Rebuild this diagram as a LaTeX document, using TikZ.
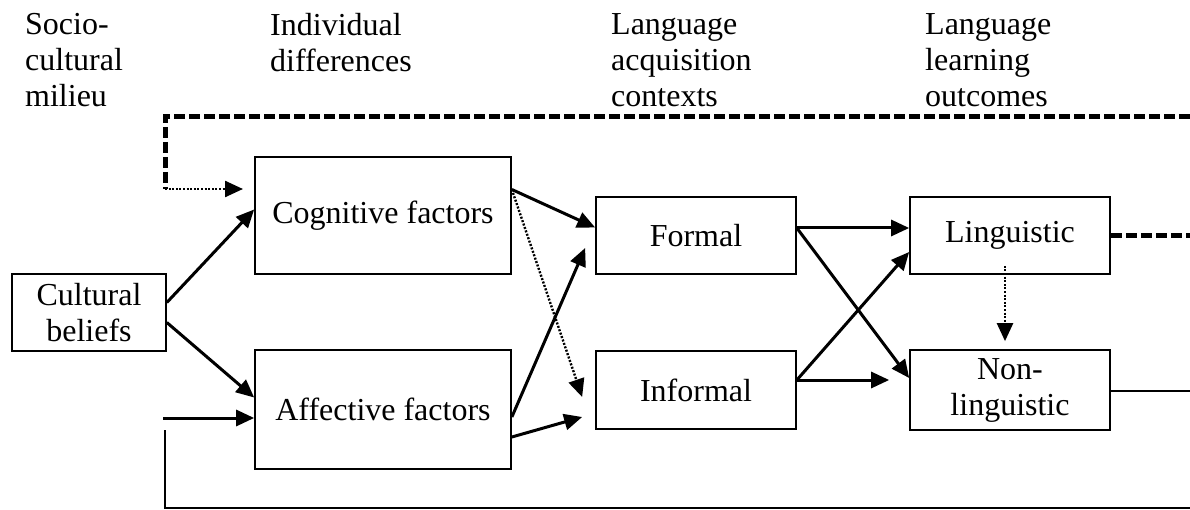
\documentclass[tikz,border=0pt]{standalone}
\usepackage{fontspec}
\setmainfont{Liberation Serif}
\usetikzlibrary{arrows.meta}

\tikzset{
  box/.style={draw, line width=1.7pt, inner sep=0pt, align=center},
  head/.style={anchor=north west, inner sep=0pt, align=left},
  arr/.style={line width=3pt, -{Triangle[length=18pt,width=16pt]}},
  dotarr/.style={line width=2.4pt, dash pattern=on 2pt off 1.6pt, -{Triangle[length=18pt,width=16pt]}},
  fbdash/.style={line width=5pt, dash pattern=on 11pt off 4pt},
  fbline/.style={line width=1.7pt}
}

\begin{document}
\begin{tikzpicture}[x=1pt, y=-1pt, font=\fontsize{32}{36}\selectfont]
\useasboundingbox (0,0) rectangle (1190,510);

% column headings
\node[head] (hsoc) at (25,13) {Socio-\\cultural\\milieu};
\node[head] (hind) at (270,13) {Individual\\differences};
\node[head] (hctx) at (611,13) {Language\\acquisition\\contexts};
\node[head] (hout) at (925,13) {Language\\learning\\outcomes};

% boxes
\node[box, minimum width=154pt, minimum height=77pt] (cult) at (89,312.5) {Cultural\\beliefs};
\node[box, minimum width=256pt, minimum height=117pt] (cog) at (383,215.5) {Cognitive factors};
\node[box, minimum width=256pt, minimum height=119pt] (aff) at (383,409.5) {Affective factors};
\node[box, minimum width=200pt, minimum height=77pt] (formal) at (696,235.5) {Formal};
\node[box, minimum width=200pt, minimum height=78pt] (informal) at (696,390) {Informal};
\node[box, minimum width=200pt, minimum height=77pt] (ling) at (1010,235.5) {\raisebox{-4pt}{Linguistic}};
\node[box, minimum width=200pt, minimum height=80pt] (nonling) at (1010,390) {Non-\\linguistic};

% feedback loops
\coordinate (topR) at (1190,117);
\coordinate (topL) at (165,117);
\coordinate (topD) at (165,189);
\coordinate (topA) at (243,189);
\coordinate (lingR) at (1190,236);
\coordinate (nonR) at (1190,391);
\coordinate (botR) at (1190,508);
\coordinate (botL) at (165,508);
\coordinate (botU) at (165,430);
\coordinate (inA) at (163,418);

\draw[fbdash] (topR) -- (topL) -- (topD);
\draw[dotarr] (topD) -- (topA);
\draw[fbdash] (ling.east |- lingR) -- (lingR);
\draw[fbline] (nonling.east |- nonR) -- (nonR);
\draw[fbline] (botR) -- (botL) -- (botU);
\draw[arr] (inA) -- ([yshift=-8.5pt]aff.west);

% milieu -> individual differences
\draw[arr] ([yshift=10pt]cult.east) -- ([yshift=6pt]cog.west);
\draw[arr] ([yshift=-10pt]cult.east) -- ([yshift=12pt]aff.west);

% individual differences -> contexts
\draw[arr] ([yshift=26pt]cog.east) -- ([yshift=8pt]formal.west);
\draw[dotarr] ([yshift=26pt]cog.east) -- ([xshift=-13pt,yshift=-7pt]informal.west);
\draw[arr] ([yshift=-7.5pt]aff.east) -- ([xshift=-10pt,yshift=-12.5pt]formal.west);
\draw[arr] ([yshift=-27.5pt]aff.east) -- ([xshift=-13pt,yshift=-27pt]informal.west);

% contexts -> outcomes
\draw[arr] ([yshift=7.5pt]formal.east) -- ([yshift=7.5pt]ling.west);
\draw[arr] ([yshift=7.5pt]formal.east) -- ([yshift=12pt]nonling.west);
\draw[arr] ([yshift=10pt]informal.east) -- ([yshift=-16.5pt]ling.west);
\draw[arr] ([yshift=10pt]informal.east) -- ([xshift=-20pt,yshift=10pt]nonling.west);
\draw[dotarr] ([xshift=-5pt,yshift=9pt]ling.south) -- ([xshift=-5pt,yshift=8pt]nonling.north);
\end{tikzpicture}
\end{document}
